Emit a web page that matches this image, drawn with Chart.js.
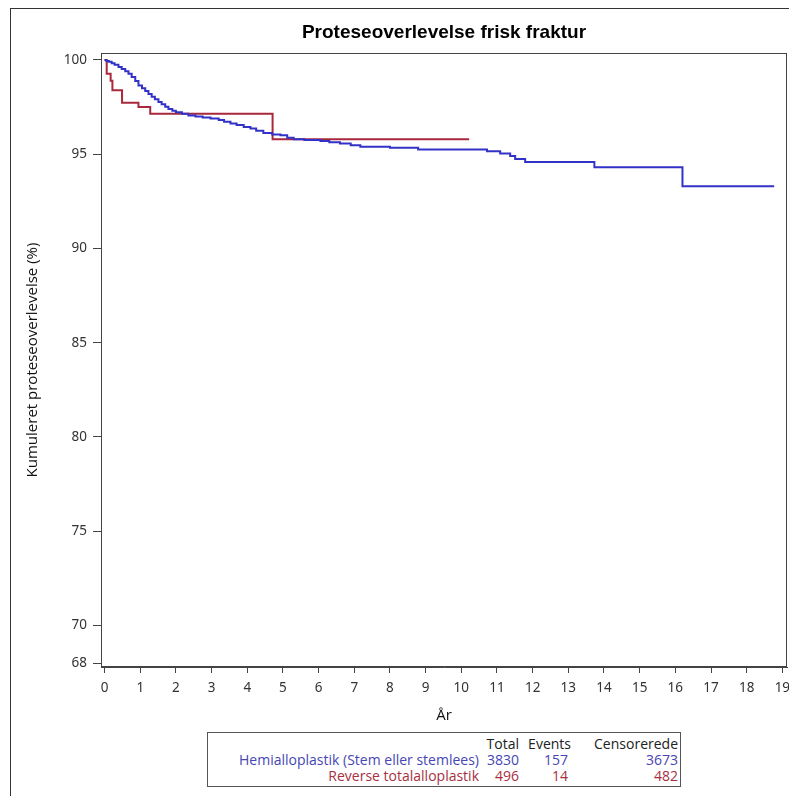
<!DOCTYPE html>
<html>
<head>
<meta charset="utf-8">
<script src="https://cdn.jsdelivr.net/npm/chart.js@4"></script>
<style>
  html, body { margin:0; padding:0; background:#fff; }
  body { width:789px; height:796px; position:relative; overflow:hidden; }
  #ramme { position:absolute; left:10px; top:8px; width:800px; height:800px; border:1px solid #333; box-sizing:border-box; }
  #graf { position:absolute; left:0; top:0; }
  #forklaring { position:absolute; left:207px; top:732px; width:474px; height:55px;
    border:1px solid #555; box-sizing:border-box; background:#fff;
    font-family:"Open Sans", sans-serif; font-size:14px; }
  #forklaring table { border-collapse:collapse; table-layout:fixed; position:absolute; left:0; top:3px; }
  #forklaring td { padding:0; height:16px; line-height:16px; text-align:right; white-space:nowrap; }
</style>
</head>
<body>
<div id="ramme"></div>
<canvas id="graf" width="789" height="796"></canvas>
<div id="forklaring"><table id="tabel"></table></div>

<script>
// =====================================
// DATA
// =====================================

const hemiAar = [0, 0.05, 0.12, 0.2, 0.28, 0.39, 0.48, 0.58, 0.67, 0.76, 0.86, 0.95, 1.05, 1.14, 1.23, 1.32, 1.41, 1.51, 1.6, 1.7, 1.79, 1.9, 2.0, 2.17, 2.35, 2.55, 2.75, 2.97, 3.2, 3.35, 3.53, 3.7, 3.9, 4.09, 4.25, 4.45, 4.7, 4.93, 5.12, 5.3, 5.6, 6.05, 6.3, 6.6, 6.9, 7.17, 8.0, 8.79, 10.72, 11.09, 11.37, 11.51, 11.79, 13.73, 16.2, 18.77];
const hemiOverlevelse = [100, 99.95, 99.9, 99.82, 99.75, 99.63, 99.52, 99.4, 99.27, 99.1, 98.88, 98.65, 98.5, 98.35, 98.2, 98.05, 97.92, 97.77, 97.65, 97.52, 97.4, 97.3, 97.22, 97.14, 97.06, 97.0, 96.95, 96.9, 96.82, 96.72, 96.63, 96.55, 96.45, 96.37, 96.25, 96.13, 96.05, 96.0, 95.87, 95.8, 95.75, 95.7, 95.63, 95.57, 95.48, 95.39, 95.34, 95.25, 95.16, 95.04, 94.9, 94.75, 94.59, 94.31, 93.3, 93.3];

const reverseAar = [0, 0.06, 0.17, 0.22, 0.49, 0.95, 1.28, 4.71, 10.22];
const reverseOverlevelse = [100, 99.27, 98.9, 98.4, 97.73, 97.5, 97.14, 95.8, 95.8];

const xTicks = [0,1,2,3,4,5,6,7,8,9,10,11,12,13,14,15,16,17,18,19];
const yTicks = [68,70,75,80,85,90,95,100];

const serieNavne = ["Hemialloplastik (Stem eller stemlees)", "Reverse totalalloplastik"];
const serieTotal = [3830, 496];
const serieEvents = [157, 14];
const serieCensorerede = [3673, 482];

const farver = ["#3232c8", "#a8283c"];
const tekstFarver = ["#4646b4", "#a8303e"];


// =====================================
// TABEL UNDER GRAFEN
// =====================================

function byggTabel(){

    const t = document.getElementById("tabel");
    const bredder = [271, 40, 52, 107];

    let html = "<colgroup>" + bredder.map(b=>`<col style="width:${b}px">`).join("") + "</colgroup>";
    html += `<tr style="color:#222"><td></td><td>Total</td><td>Events</td><td>Censorerede</td></tr>`;

    serieNavne.forEach((navn,i)=>{
        html += `<tr style="color:${tekstFarver[i]}"><td>${navn}</td><td>${serieTotal[i]}</td>` +
                `<td style="padding-right:3px">${serieEvents[i]}</td><td>${serieCensorerede[i]}</td></tr>`;
    });

    t.innerHTML = html;
}

byggTabel();


// =====================================
// GRAF
// =====================================

const rammePlugin = {
    id:"rammePlugin",
    afterDraw(chart){
        const {ctx, chartArea:a} = chart;
        ctx.save();
        ctx.strokeStyle = "#444";
        ctx.lineWidth = 1;
        ctx.strokeRect(a.left+0.5, a.top+0.5, a.right-a.left-1, a.bottom-a.top-1);
        ctx.restore();
    }
};

const tickFont = { family:"'Noto Sans', sans-serif", size:13.5 };

new Chart(document.getElementById("graf"),{

    type:"line",

    data:{
        datasets:[
            {
                label: serieNavne[0],
                data: hemiAar.map((x,i)=>({x:x, y:hemiOverlevelse[i]})),
                borderColor: farver[0],
                borderWidth: 2,
                pointRadius: 0,
                stepped: true,
                fill: false
            },
            {
                label: serieNavne[1],
                data: reverseAar.map((x,i)=>({x:x, y:reverseOverlevelse[i]})),
                borderColor: farver[1],
                borderWidth: 2,
                pointRadius: 0,
                stepped: true,
                fill: false
            }
        ]
    },

    options:{
        responsive:false,
        animation:false,
        events:[],
        layout:{ padding:{ top:0, left:0, right:2, bottom:0 } },

        plugins:{
            legend:{ display:false },
            tooltip:{ enabled:false },
            title:{
                display:true,
                text:"Proteseoverlevelse frisk fraktur",
                fullSize:false,
                color:"#000",
                font:{ family:"'Liberation Sans', Arial, sans-serif", size:19, weight:"bold", lineHeight:1.2 },
                padding:{ top:21.6, bottom:8.6 }
            }
        },

        scales:{
            x:{
                type:"linear",
                min:-0.1,
                max:19.13,
                afterBuildTicks: s => { s.ticks = xTicks.map(v=>({value:v})); },
                afterFit: s => { s.height = 129; s.paddingLeft = 0; s.paddingRight = 0; },
                grid:{ drawOnChartArea:false, drawTicks:true, tickLength:6, color:"#444" },
                border:{ display:true, color:"#444" },
                ticks:{ font:tickFont, color:"#333", padding:7, maxRotation:0, autoSkip:false },
                title:{
                    display:true,
                    text:"År",
                    color:"#111",
                    font:{ family:"'Open Sans', sans-serif", size:15, lineHeight:1.2 },
                    padding:{ top:0, bottom:71 }
                }
            },
            y:{
                min:67.79,
                max:100.37,
                afterBuildTicks: s => { s.ticks = yTicks.map(v=>({value:v})); },
                afterFit: s => { s.width = 101; s.paddingTop = 0; s.paddingBottom = 0; },
                grid:{ drawOnChartArea:false, drawTicks:true, tickLength:8, color:"#444" },
                border:{ display:true, color:"#444" },
                ticks:{ font:tickFont, color:"#333", padding:6, autoSkip:false },
                title:{
                    display:true,
                    text:"Kumuleret proteseoverlevelse (%)",
                    color:"#111",
                    font:{ family:"'Open Sans', sans-serif", size:15, lineHeight:1.2 },
                    padding:{ top:24, bottom:0 }
                }
            }
        }
    },

    plugins:[rammePlugin]
});
</script>
</body>
</html>
